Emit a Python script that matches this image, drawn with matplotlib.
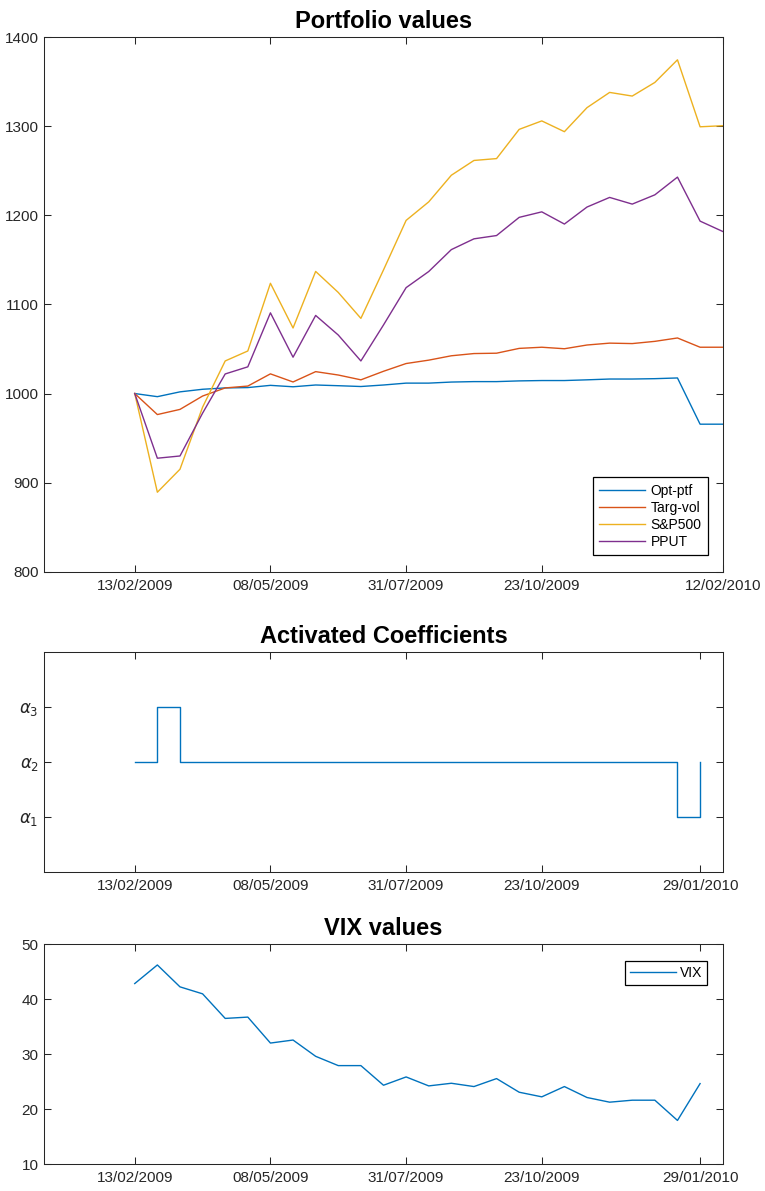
import numpy as np
import pandas as pd
import matplotlib
matplotlib.use("Agg")
import matplotlib.pyplot as plt

plt.rcParams["font.family"] = ["Liberation Sans", "DejaVu Sans"]
plt.rcParams["mathtext.fontset"] = "dejavusans"

# fortnightly observation dates
dates_ptf = pd.date_range("2009-02-13", periods=27, freq="14D")
dates_vix = dates_ptf[:26]

opt_ptf = [1000, 996.5, 1001.9, 1004.8, 1006.3, 1006.7, 1009.2, 1007.6, 1009.6,
           1008.8, 1007.9, 1009.6, 1011.7, 1011.7, 1012.9, 1013.4, 1013.4,
           1014.2, 1014.6, 1014.6, 1015.4, 1016.3, 1016.3, 1016.7, 1017.5,
           965.6, 965.6]
targ_vol = [1000, 976.4, 982.2, 997.2, 1006.3, 1008.4, 1022.1, 1013.0, 1024.6,
            1020.8, 1015.4, 1025.0, 1033.7, 1037.5, 1042.4, 1044.9, 1045.3,
            1050.7, 1052.0, 1050.3, 1054.5, 1056.6, 1056.1, 1058.6, 1062.4,
            1052.0, 1052.0]
sp500 = [1000, 889.2, 915.0, 984.7, 1036.6, 1047.8, 1123.8, 1073.6, 1137.1,
         1113.5, 1084.4, 1138.8, 1194.4, 1215.2, 1245.1, 1261.7, 1263.8,
         1296.6, 1306.1, 1294.0, 1321.0, 1338.1, 1334.0, 1349.3, 1374.7,
         1299.5, 1300.7]
pput = [1000, 927.4, 929.9, 978.0, 1022.0, 1030.0, 1090.6, 1040.8, 1087.7,
        1065.7, 1036.6, 1077.0, 1118.9, 1137.0, 1161.6, 1173.7, 1177.4,
        1197.8, 1204.0, 1190.3, 1209.4, 1220.2, 1212.7, 1223.1, 1243.0,
        1193.6, 1182.0]

# index of the active coefficient (1 -> alpha_1, ...)
active_coef = [2, 3, 2, 2, 2, 2, 2, 2, 2, 2, 2, 2, 2, 2, 2, 2, 2, 2, 2, 2,
               2, 2, 2, 2, 1, 2]

vix = [42.87, 46.25, 42.27, 41.0, 36.53, 36.77, 32.05, 32.6, 29.64, 27.95,
       27.95, 24.38, 25.89, 24.26, 24.74, 24.14, 25.59, 23.11, 22.27, 24.14,
       22.15, 21.3, 21.66, 21.66, 17.98, 24.68]

tick_labels_top = ["13/02/2009", "08/05/2009", "31/07/2009", "23/10/2009", "12/02/2010"]
tick_labels_low = ["13/02/2009", "08/05/2009", "31/07/2009", "23/10/2009", "29/01/2010"]
coef_labels = [r"$\alpha_1$", r"$\alpha_2$", r"$\alpha_3$"]

C_BLUE, C_ORANGE, C_YELLOW, C_PURPLE = "#0072BD", "#D95319", "#EDB120", "#7E2F8E"
AX_COL = "#262626"
xlim = (pd.Timestamp("2008-12-19"), pd.Timestamp("2010-02-12"))


def style(ax, ticks, labels, title):
    ax.set_xlim(*xlim)
    ax.set_xticks(ticks)
    ax.set_xticklabels(labels)
    ax.tick_params(direction="in", top=True, right=True, length=4.9, width=0.75,
                   color=AX_COL, labelcolor=AX_COL, labelsize=11)
    ax.tick_params(axis="x", pad=5)
    ax.tick_params(axis="y", pad=4)
    for s in ax.spines.values():
        s.set_linewidth(0.75)
        s.set_color(AX_COL)
    ax.set_title(title, fontsize=17, fontweight="bold", pad=7)


fig = plt.figure(figsize=(7.65, 11.91), dpi=100)
L, W = 0.0579, 0.8868
ax1 = fig.add_axes([L, 0.5200, W, 0.4487])
ax2 = fig.add_axes([L, 0.2676, W, 0.1847])
ax3 = fig.add_axes([L, 0.0224, W, 0.1847])

lw = 1.0
ax1.plot(dates_ptf, opt_ptf, color=C_BLUE, lw=lw, label="Opt-ptf")
ax1.plot(dates_ptf, targ_vol, color=C_ORANGE, lw=lw, label="Targ-vol")
ax1.plot(dates_ptf, sp500, color=C_YELLOW, lw=lw, label="S&P500")
ax1.plot(dates_ptf, pput, color=C_PURPLE, lw=lw, label="PPUT")
ax1.set_ylim(800, 1400)
ax1.set_yticks(np.arange(800, 1401, 100))
style(ax1, [dates_ptf[i] for i in (0, 6, 12, 18, 26)], tick_labels_top, "Portfolio values")
leg = ax1.legend(loc="lower right", bbox_to_anchor=(0.9784, 0.0312), borderaxespad=0,
                 fontsize=10, handlelength=3.3, handletextpad=0.4, labelspacing=0.22,
                 borderpad=0.45, fancybox=False, framealpha=1, edgecolor="#000000")
leg.get_frame().set_linewidth(0.9)

ax2.step(dates_vix, active_coef, where="post", color=C_BLUE, lw=lw)
ax2.set_ylim(0, 4)
ax2.set_yticks([1, 2, 3])
style(ax2, [dates_vix[i] for i in (0, 6, 12, 18, 25)], tick_labels_low, "Activated Coefficients")
ax2.set_yticklabels(coef_labels, fontsize=12)

ax3.plot(dates_vix, vix, color=C_BLUE, lw=lw, label="VIX")
ax3.set_ylim(10, 50)
ax3.set_yticks(np.arange(10, 51, 10))
style(ax3, [dates_vix[i] for i in (0, 6, 12, 18, 25)], tick_labels_low, "VIX values")
leg3 = ax3.legend(loc="upper right", bbox_to_anchor=(0.9769, 0.9245), borderaxespad=0,
                  fontsize=10, handlelength=3.3, handletextpad=0.3, borderpad=0.35,
                  fancybox=False, framealpha=1, edgecolor="#000000")
leg3.get_frame().set_linewidth(0.9)

fig.savefig("out.png", dpi=100)
